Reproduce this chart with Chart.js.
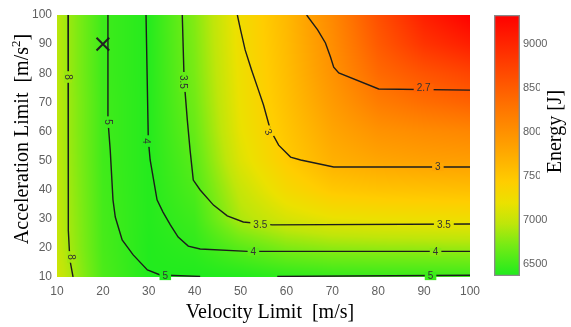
<!DOCTYPE html>
<html><head><meta charset="utf-8">
<script src="https://cdn.jsdelivr.net/npm/chart.js@4/dist/chart.umd.min.js"></script>
<style>
html,body{margin:0;padding:0;background:#fff;width:571px;height:327px;overflow:hidden}
#wrap{position:relative;width:571px;height:327px}
#main{position:absolute;left:0;top:0}
#cbar{position:absolute;left:470px;top:0}
</style></head><body>
<div id="wrap"><canvas id="main" width="490" height="327"></canvas><canvas id="cbar" width="101" height="327"></canvas></div>
<script>
// ---------- data ----------
const velocityTicks = [10,20,30,40,50,60,70,80,90,100];
const accelTicks    = [10,20,30,40,50,60,70,80,90,100];
const energyTicks   = [6500,7000,7500,8000,8500,9000];
const energyMin = 6364, energyMax = 9330;

const gridVelocity = [10,20,30,40,50,60,70,80,90,100];
const gridAccel    = [10,20,30,40,50,60,70,80,90,100];
// energy [J] at each grid node, one row per acceleration limit
const energyA10  = [7050,6550,6380,6370,6380,6420,6450,6460,6470,6480];
const energyA20  = [7000,6530,6380,6430,6600,6740,6800,6820,6830,6840];
const energyA30  = [6990,6520,6390,6490,6900,7080,7180,7210,7230,7240];
const energyA40  = [6980,6510,6390,6550,7000,7300,7480,7530,7550,7570];
const energyA50  = [6970,6500,6390,6600,7120,7450,7700,7800,7850,7870];
const energyA60  = [6960,6500,6390,6650,7180,7500,7800,7980,8050,8100];
const energyA70  = [6960,6500,6390,6690,7210,7550,7900,8200,8350,8450];
const energyA80  = [6950,6490,6390,6720,7230,7580,7980,8380,8580,8720];
const energyA90  = [6950,6490,6390,6740,7250,7600,8030,8520,8870,9060];
const energyA100 = [6950,6490,6390,6760,7260,7620,8080,8620,9060,9330];

// contour lines (velocity, acceleration)
const contour8V  = [12.4,12.4,12.4,12.6,12.8,13.5];
const contour8A  = [100,78,53.6,26,16,10];
const contour5V  = [21.1,21.1,21.6,22.2,22.7,24.2,26.6,29.7,32.5,41.2,null,58.0,100];
const contour5A  = [100,63.9,53.6,36.5,30.6,22.7,17.6,12.4,10.7,10.2,null,10.2,10.6];
const contour4V  = [29.4,29.9,30.3,31.8,33.1,34.7,36.4,38.6,41.2,51.5,100];
const contour4A  = [100,57.1,50.2,36.5,32.3,27.9,23.7,20.6,19.6,18.8,18.8];
const contour35V = [37.3,37.7,38.4,39.0,39.7,41.2,44.1,47.1,50.6,56.9,100];
const contour35A = [100,77.7,63.9,53.6,43.3,39.9,34.7,31.0,28.9,27.9,28.2];
const contour3V  = [49.3,50.0,51.0,52.4,53.9,55.0,56.5,58.3,60.9,63.1,70.3,100];
const contour3A  = [100,94.9,88.0,81.1,74.2,69.1,60.5,55.3,51.2,50.2,47.8,47.8];
const contour27V = [64.4,66.8,68.5,69.6,70.3,71.4,80.1,100];
const contour27A = [100,94.9,90.4,85.6,82.1,80.1,74.6,74.2];

// contour labels
const labelText = ['8','8','5','5','5','4','4','4','3.5','3.5','3.5','3','3','2.7'];
const labelV    = [12.4,13.1,21.1,33.6,91.4,29.4,52.8,92.5,37.5,54.3,94.3,56.1,93.0,89.9];
const labelA    = [78.7,16.9,63.2,10.3,10.3,56.7,18.6,18.6,77.0,27.9,27.9,59.8,47.8,74.9];
const labelRot  = [90,90,90,0,0,90,0,0,90,0,0,62,0,0];

// marked point
const markerV = [20];
const markerA = [90];

// ---------- helpers ----------
const energyRows = [energyA10,energyA20,energyA30,energyA40,energyA50,energyA60,energyA70,energyA80,energyA90,energyA100];
const cmapStops = [[0,30,235,30],[0.12,120,235,20],[0.2,190,230,10],[0.28,235,225,0],[0.36,255,205,0],[0.5,255,160,0],[0.65,255,115,0],[0.82,255,60,0],[1,255,0,0]];
function cmap(e){
  let t=(e-energyMin)/(energyMax-energyMin); t=Math.max(0,Math.min(1,t));
  for(let k=1;k<cmapStops.length;k++){
    const a=cmapStops[k-1], b=cmapStops[k];
    if(t<=b[0]){const u=(t-a[0])/(b[0]-a[0]);return [a[1]+(b[1]-a[1])*u,a[2]+(b[2]-a[2])*u,a[3]+(b[3]-a[3])*u];}
  }
  const l=cmapStops[cmapStops.length-1]; return [l[1],l[2],l[3]];
}
function idxFrac(arr,v){
  if(v<=arr[0]) return [0,0];
  if(v>=arr[arr.length-1]) return [arr.length-2,1];
  for(let i=0;i<arr.length-1;i++){ if(v<=arr[i+1]) return [i,(v-arr[i])/(arr[i+1]-arr[i])]; }
}
function energyAt(v,a){
  const [i,tx]=idxFrac(gridVelocity,v), [j,ty]=idxFrac(gridAccel,a);
  const r0=energyRows[j], r1=energyRows[j+1];
  return r0[i]*(1-tx)*(1-ty)+r0[i+1]*tx*(1-ty)+r1[i]*(1-tx)*ty+r1[i+1]*tx*ty;
}
function toPoints(V,A){ return V.map((v,i)=>({x:v,y:A[i]})); }
function splitContour(V,A){
  const parts=[]; let cv=[],ca=[];
  V.forEach((v,i)=>{ if(v===null){parts.push([cv,ca]);cv=[];ca=[];} else {cv.push(v);ca.push(A[i]);} });
  parts.push([cv,ca]); return parts;
}

const heatPlugin = {
  id:'heat',
  beforeDatasetsDraw(chart){
    const {ctx, chartArea:ca, scales:{x,y}} = chart;
    const w=Math.round(ca.right-ca.left), h=Math.round(ca.bottom-ca.top);
    const off=document.createElement('canvas'); off.width=w; off.height=h;
    const octx=off.getContext('2d'); const img=octx.createImageData(w,h);
    for(let j=0;j<h;j++){
      const a=y.getValueForPixel(ca.top+j+0.5);
      for(let i=0;i<w;i++){
        const v=x.getValueForPixel(ca.left+i+0.5);
        const c=cmap(energyAt(v,a)); const p=(j*w+i)*4;
        img.data[p]=c[0]; img.data[p+1]=c[1]; img.data[p+2]=c[2]; img.data[p+3]=255;
      }
    }
    octx.putImageData(img,0,0);
    ctx.drawImage(off,ca.left,ca.top);
  },
  afterDatasetsDraw(chart){
    const {ctx, scales:{x,y}} = chart;
    ctx.save();
    ctx.font='10px "Liberation Sans", Arial, sans-serif';
    ctx.textAlign='center'; ctx.textBaseline='middle';
    labelText.forEach((t,k)=>{
      const px=x.getPixelForValue(labelV[k]), py=y.getPixelForValue(labelA[k]);
      const c=cmap(energyAt(labelV[k],labelA[k]));
      ctx.save(); ctx.translate(px,py); ctx.rotate(labelRot[k]*Math.PI/180);
      const tw=ctx.measureText(t).width;
      ctx.fillStyle=`rgb(${c[0]|0},${c[1]|0},${c[2]|0})`;
      ctx.fillRect(-tw/2-3,-4,tw+6,8);
      ctx.fillStyle='#333'; ctx.fillText(t,0,0.5);
      ctx.restore();
    });
    ctx.restore();
  },
  afterDraw(chart){
    const ctx=chart.ctx; ctx.save();
    ctx.fillStyle='#000'; ctx.textBaseline='middle';
    ctx.font='20px "Liberation Serif", "Times New Roman", serif';
    ctx.textAlign='center';
    ctx.fillText('Velocity Limit  [m/s]',270,313);
    // y title with superscript
    ctx.translate(23,139); ctx.rotate(-Math.PI/2);
    const p1='Acceleration Limit  [m/s', p3=']';
    const w1=ctx.measureText(p1).width, w3=ctx.measureText(p3).width;
    ctx.font='13px "Liberation Serif", "Times New Roman", serif';
    const w2=ctx.measureText('2').width;
    const sx=-(w1+w2+w3)/2;
    ctx.textAlign='left';
    ctx.fillText('2',sx+w1,-6);
    ctx.font='20px "Liberation Serif", "Times New Roman", serif';
    ctx.fillText(p1,sx,0);
    ctx.fillText(p3,sx+w1+w2,0);
    ctx.restore();
  }
};

const datasets=[];
[[contour8V,contour8A],[contour5V,contour5A],[contour4V,contour4A],[contour35V,contour35A],[contour3V,contour3A],[contour27V,contour27A]].forEach(([V,A])=>{
  splitContour(V,A).forEach(([cv,ca])=>{
    datasets.push({type:'line',data:toPoints(cv,ca),borderColor:'#1c1c1c',borderWidth:1.4,pointRadius:0,tension:0,fill:false});
  });
});
datasets.push({type:'scatter',data:toPoints(markerV,markerA),pointStyle:'crossRot',pointRadius:9,borderColor:'#222',borderWidth:2});

const tickFont={family:'"Liberation Sans", Arial, sans-serif',size:12};
new Chart(document.getElementById('main'),{
  type:'scatter',
  data:{datasets},
  options:{
    responsive:false, animation:false, devicePixelRatio:1, events:[],
    layout:{padding:{top:15,right:20,bottom:0,left:0}},
    plugins:{legend:{display:false},tooltip:{enabled:false}},
    scales:{
      x:{type:'linear',min:10,max:100,grid:{display:false,drawTicks:false},border:{display:false},
         afterBuildTicks:s=>{s.ticks=velocityTicks.map(v=>({value:v}));},
         afterFit:s=>{s.height=50;},
         ticks:{color:'#606060',font:tickFont,padding:7,maxRotation:0,autoSkip:false,callback:v=>String(v)}},
      y:{type:'linear',min:10,max:100,grid:{display:false,drawTicks:false},border:{display:false},
         afterBuildTicks:s=>{s.ticks=accelTicks.map(v=>({value:v}));},
         afterFit:s=>{s.width=57;},
         ticks:{color:'#606060',font:tickFont,padding:5,autoSkip:false,callback:v=>String(v)}}
    }
  },
  plugins:[heatPlugin]
});

// ---------- colorbar ----------
const cbarPlugin={
  id:'cbarDraw',
  beforeDatasetsDraw(chart){
    const {ctx, chartArea:ca, scales:{y}} = chart;
    const yb=y.getPixelForValue(energyMin), yt=y.getPixelForValue(energyMax);
    const g=ctx.createLinearGradient(0,yb,0,yt);
    cmapStops.forEach(s=>g.addColorStop(s[0],`rgb(${s[1]},${s[2]},${s[3]})`));
    ctx.save(); ctx.fillStyle=g; ctx.fillRect(ca.left,yt,ca.right-ca.left,yb-yt); ctx.restore();
  },
  afterDraw(chart){
    const ctx=chart.ctx; ctx.save();
    ctx.fillStyle='#fff'; ctx.fillRect(70,75,31,115);
    ctx.fillStyle='#000'; ctx.font='20px "Liberation Serif", "Times New Roman", serif';
    ctx.textAlign='center'; ctx.textBaseline='middle';
    ctx.translate(86,131.5); ctx.rotate(-Math.PI/2);
    ctx.fillText('Energy [J]',0,0);
    ctx.restore();
  }
};
new Chart(document.getElementById('cbar'),{
  type:'bar',
  data:{labels:[''],datasets:[{data:[[energyMin,energyMax]],barPercentage:1,categoryPercentage:1,
    borderWidth:1,borderColor:'#8a8a8a',borderSkipped:false,backgroundColor:'rgba(0,0,0,0)'}]},
  options:{
    responsive:false, animation:false, devicePixelRatio:1, events:[],
    layout:{padding:{top:15,right:0,bottom:51,left:24}},
    plugins:{legend:{display:false},tooltip:{enabled:false}},
    scales:{
      x:{display:false},
      y:{position:'right',min:energyMin,max:energyMax,grid:{display:false,drawTicks:false},border:{display:false},
         afterBuildTicks:s=>{s.ticks=energyTicks.map(v=>({value:v}));},
         afterFit:s=>{s.width=51;},
         ticks:{color:'#606060',font:{family:'"Liberation Sans", Arial, sans-serif',size:11},padding:3,autoSkip:false,callback:v=>String(v)}}
    }
  },
  plugins:[cbarPlugin]
});
</script>
</body></html>
